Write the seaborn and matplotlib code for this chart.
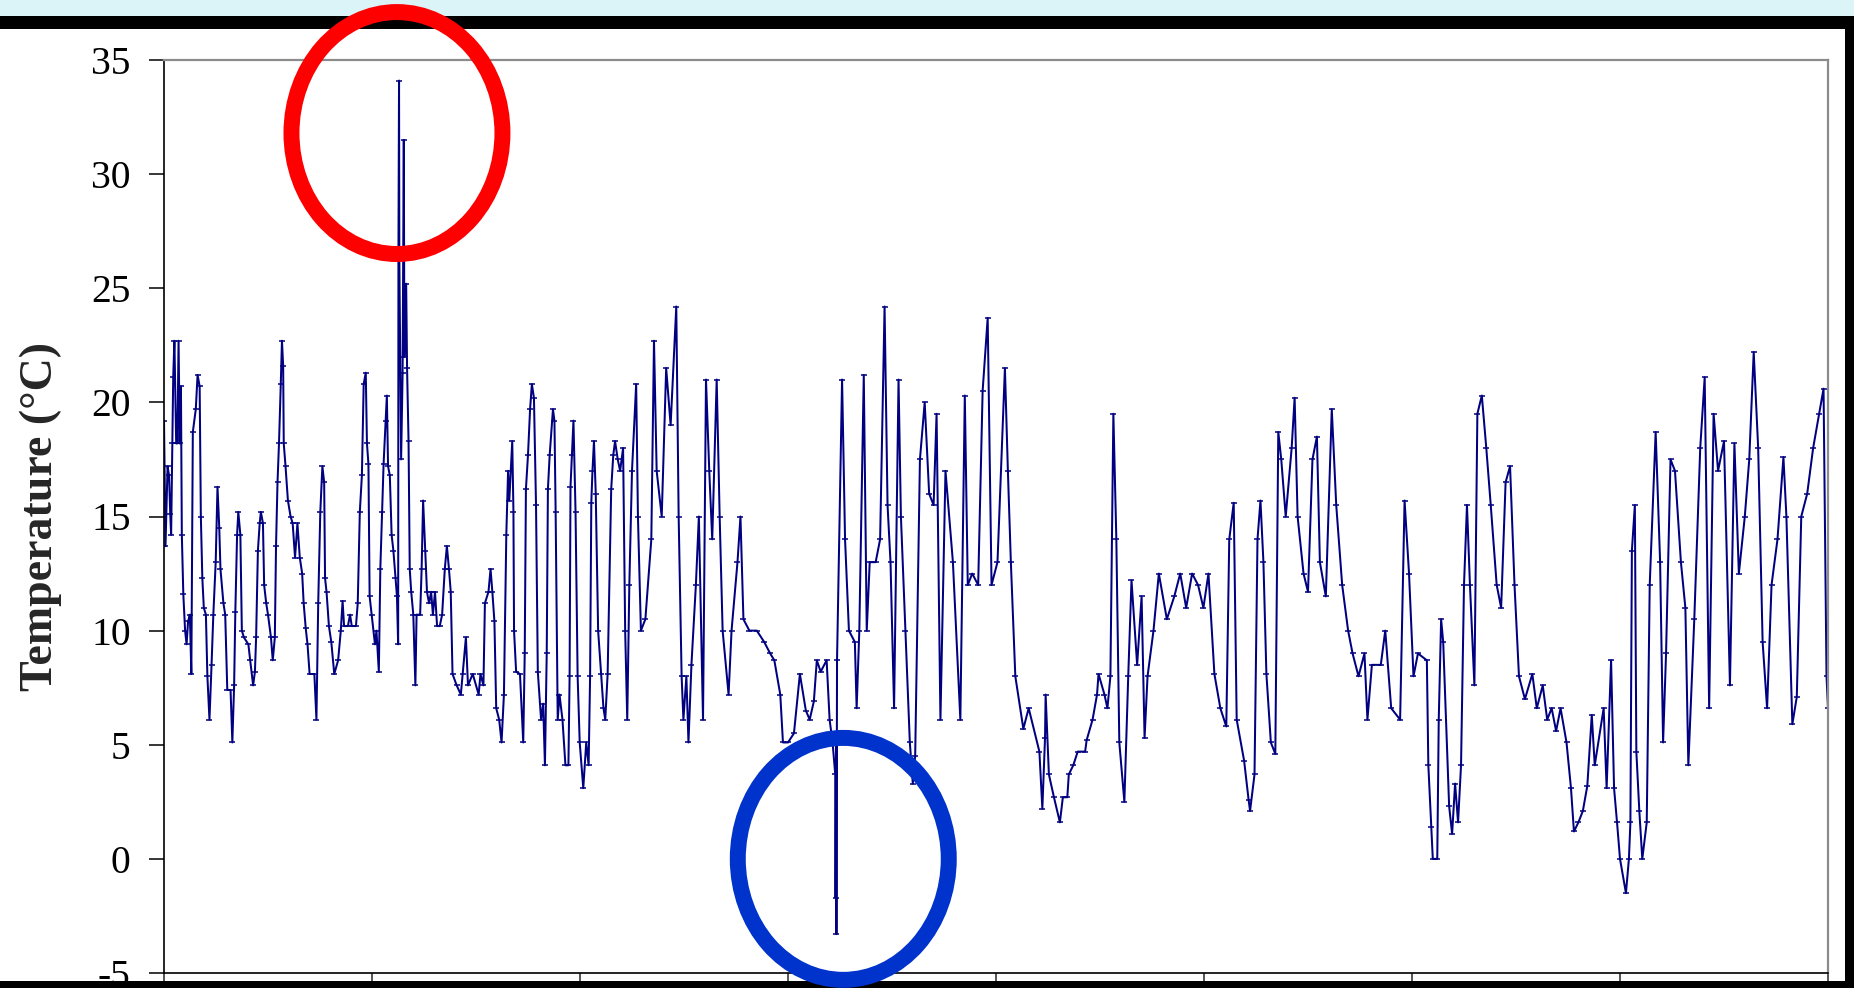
# Logged air temperature over eight weeks, with the two faulty readings circled
import pandas as pd
import matplotlib
matplotlib.use("Agg")
import matplotlib.pyplot as plt
import seaborn as sns
from matplotlib.patches import Ellipse, Rectangle

# time in days from the start of the log, temperature in degC
day = [
    0.00, 0.05, 0.12, 0.17, 0.21, 0.24, 0.28, 0.31, 0.35, 0.41, 0.45, 0.49, 0.53, 0.57, 0.60, 0.65,
    0.71, 0.76, 0.81, 0.87, 0.92, 0.97, 1.07, 1.13, 1.20, 1.24, 1.29, 1.34, 1.41, 1.46, 1.53, 1.60,
    1.66, 1.74, 1.80, 1.86, 1.90, 2.00, 2.06, 2.13, 2.24, 2.30, 2.36, 2.40, 2.46, 2.50, 2.57, 2.62,
    2.69, 2.84, 2.90, 3.00, 3.06, 3.10, 3.16, 3.22, 3.26, 3.33, 3.37, 3.44, 3.50, 3.60, 3.66, 3.73,
    3.77, 3.82, 3.87, 3.93, 3.97, 4.01, 4.03, 4.09, 4.17, 4.26, 4.33, 4.41, 4.49, 4.57, 4.65, 4.70,
    4.77, 4.83, 4.90, 5.06, 5.13, 5.19, 5.26, 5.33, 5.39, 5.42, 5.47, 5.55, 5.63, 5.73, 5.86, 5.95,
    6.01, 6.06, 6.19, 6.26, 6.32, 6.46, 6.52, 6.59, 6.66, 6.72, 6.79, 6.83, 6.88, 6.92, 6.99, 7.10,
    7.15, 7.23, 7.28, 7.34, 7.39, 7.46, 7.50, 7.54, 7.60, 7.66, 7.72, 7.79, 7.84, 7.88, 7.89, 7.91,
    7.92, 7.98, 8.03, 8.07, 8.09, 8.15, 8.18, 8.23, 8.27, 8.32, 8.39, 8.46, 8.50, 8.62, 8.67, 8.72,
    8.79, 8.85, 8.92, 8.99, 9.05, 9.12, 9.19, 9.28, 9.36, 9.45, 9.52, 9.59, 9.65, 9.71, 9.85, 9.99,
    10.05, 10.16, 10.23, 10.39, 10.59, 10.65, 10.75, 10.80, 10.92, 10.99, 11.05, 11.12, 11.18, 11.28,
    11.36, 11.44, 11.52, 11.58, 11.62, 11.72, 11.76, 11.78, 11.85, 11.98, 12.09, 12.14, 12.18, 12.25,
    12.32, 12.38, 12.45, 12.52, 12.58, 12.69, 12.76, 12.82, 12.88, 12.92, 12.98, 13.09, 13.14, 13.18,
    13.25, 13.31, 13.41, 13.51, 13.61, 13.65, 13.68, 13.73, 13.78, 13.85, 13.92, 13.99, 14.11, 14.21,
    14.29, 14.34, 14.38, 14.42, 14.47, 14.53, 14.61, 14.71, 14.79, 14.85, 14.93, 15.05, 15.12, 15.18,
    15.27, 15.35, 15.45, 15.52, 15.59, 15.66, 15.75, 15.89, 15.95, 16.05, 16.20, 16.40, 16.49, 16.58,
    16.75, 16.90, 17.05, 17.24, 17.32, 17.42, 17.48, 17.58, 17.65, 17.75, 17.90, 18.00, 18.14, 18.24,
    18.35, 18.45, 18.60, 18.70, 18.80, 19.00, 19.10, 19.30, 19.40, 19.50, 19.70, 19.95, 20.20, 20.40,
    20.54, 20.74, 20.83, 21.00, 21.20, 21.40, 21.60, 21.73, 21.87, 21.97, 22.10, 22.30, 22.40, 22.50,
    22.59, 22.60, 22.62, 22.63, 22.65, 22.82, 22.92, 23.05, 23.25, 23.31, 23.40, 23.55, 23.65, 23.75,
    23.95, 24.10, 24.25, 24.35, 24.45, 24.57, 24.72, 24.80, 24.95, 25.10, 25.20, 25.28, 25.44, 25.60,
    25.75, 25.90, 26.00, 26.13, 26.30, 26.55, 26.80, 26.95, 27.05, 27.20, 27.40, 27.55, 27.72, 27.85,
    28.05, 28.30, 28.40, 28.50, 28.65, 28.92, 29.10, 29.46, 29.56, 29.65, 29.67, 29.78, 29.95, 30.15,
    30.25, 30.40, 30.45, 30.60, 30.75, 31.00, 31.05, 31.25, 31.40, 31.45, 31.65, 31.75, 31.85, 31.95,
    32.05, 32.15, 32.32, 32.45, 32.56, 32.75, 32.90, 33.00, 33.10, 33.30, 33.48, 33.75, 34.00, 34.20,
    34.40, 34.60, 34.80, 34.98, 35.15, 35.35, 35.55, 35.75, 35.85, 36.00, 36.10, 36.35, 36.50, 36.55,
    36.70, 36.80, 36.90, 37.00, 37.10, 37.25, 37.40, 37.50, 37.60, 37.75, 37.95, 38.05, 38.15, 38.35,
    38.50, 38.65, 38.80, 38.90, 39.10, 39.30, 39.45, 39.65, 39.85, 40.00, 40.20, 40.40, 40.50, 40.65,
    40.95, 41.10, 41.30, 41.60, 41.75, 41.90, 42.05, 42.20, 42.50, 42.55, 42.65, 42.70, 42.85, 42.90,
    42.98, 43.05, 43.25, 43.35, 43.45, 43.55, 43.65, 43.75, 43.85, 43.95, 44.10, 44.20, 44.35, 44.50,
    44.65, 44.85, 45.00, 45.15, 45.30, 45.45, 45.60, 45.80, 46.05, 46.20, 46.40, 46.55, 46.70, 46.85,
    47.00, 47.20, 47.35, 47.45, 47.60, 47.75, 47.90, 48.05, 48.15, 48.45, 48.55, 48.70, 48.80, 48.90,
    49.00, 49.20, 49.30, 49.35, 49.40, 49.50, 49.55, 49.65, 49.75, 49.90, 50.00, 50.20, 50.35, 50.45,
    50.55, 50.70, 50.85, 51.05, 51.20, 51.30, 51.50, 51.70, 51.85, 52.00, 52.15, 52.30, 52.50, 52.70,
    52.85, 53.00, 53.20, 53.35, 53.50, 53.65, 53.80, 53.95, 54.10, 54.30, 54.50, 54.60, 54.80, 54.95,
    55.10, 55.30, 55.50, 55.70, 55.85, 55.95, 56.00,
]
temp = [
    19.2, 13.7, 17.2, 16.8, 15.1, 14.2, 18.2, 21.1, 22.7, 18.2, 18.2, 22.7, 18.2, 20.7, 14.2, 11.6,
    10.0, 9.4, 10.4, 10.7, 8.1, 18.7, 19.7, 21.2, 20.7, 15.0, 12.3, 11.0, 10.7, 8.0, 6.1, 8.5,
    10.7, 13.0, 16.3, 14.5, 12.7, 11.2, 10.7, 7.4, 7.4, 5.1, 7.6, 10.8, 14.2, 15.2, 14.2, 10.0,
    9.7, 9.4, 8.7, 7.6, 8.2, 9.7, 13.5, 14.7, 15.2, 14.7, 12.0, 11.2, 10.7, 9.7, 8.7, 9.7,
    13.7, 16.5, 18.2, 20.8, 22.7, 21.6, 18.2, 17.2, 15.7, 15.0, 14.7, 13.2, 14.7, 13.2, 12.5, 11.2,
    10.1, 9.4, 8.1, 8.1, 6.1, 11.2, 15.2, 17.2, 16.5, 12.3, 11.7, 10.2, 9.5, 8.1, 8.7, 10.0,
    11.3, 10.2, 10.2, 10.7, 10.2, 10.2, 11.2, 15.2, 16.8, 20.8, 21.3, 18.2, 17.3, 11.5, 10.7, 9.4,
    10.0, 8.2, 12.7, 15.2, 17.3, 19.2, 20.3, 17.2, 16.8, 14.2, 13.5, 12.3, 11.5, 9.4, 26.5, 34.1,
    26.3, 17.5, 21.3, 31.5, 22.0, 25.2, 21.5, 18.3, 12.7, 11.7, 10.7, 7.6, 10.7, 10.7, 12.7, 15.7,
    13.5, 11.7, 11.2, 11.7, 10.7, 11.7, 10.2, 10.2, 10.7, 12.7, 13.7, 12.7, 11.7, 8.1, 7.6, 7.2,
    8.1, 9.7, 7.6, 8.1, 7.2, 8.1, 7.6, 11.2, 11.7, 12.7, 11.7, 10.4, 6.6, 6.1,
    5.1, 7.2, 14.2, 17.0, 15.7, 18.3, 15.2, 10.0, 8.2, 8.1, 5.1, 9.0, 16.2, 17.7,
    19.7, 20.8, 20.2, 15.5, 8.2, 6.1, 6.8, 4.1, 9.0, 16.2, 17.7, 19.7, 19.2, 15.2,
    6.1, 7.2, 6.1, 4.1, 4.1, 8.0, 16.3, 17.7, 19.2, 15.2, 8.0, 5.1, 3.1, 5.1,
    4.1, 8.0, 15.6, 17.0, 18.3, 16.0, 10.0, 8.1, 6.6, 6.1, 8.1, 16.2, 17.7, 18.3,
    17.5, 17.0, 18.0, 10.0, 6.1, 12.0, 17.0, 20.8, 15.0, 10.0, 10.5, 14.0, 22.7, 17.0,
    15.0, 21.5, 19.0, 24.2, 15.0, 8.0, 6.1, 8.0, 5.1, 8.5, 12.0, 15.0, 6.1, 21.0,
    17.0, 14.0, 21.0, 15.0, 10.0, 7.2, 10.0, 13.0, 15.0, 10.5, 10.0, 10.0, 9.5, 9.0,
    8.7, 7.2, 5.1, 5.1, 5.5, 8.1, 6.5, 6.1, 6.9, 8.7, 8.2, 8.7, 6.1, 5.1,
    3.7, -1.7, 5.0, -3.3, 8.7, 21.0, 14.0, 10.0, 9.5, 6.6, 10.0, 21.2, 10.0, 13.0,
    13.0, 14.0, 24.2, 15.5, 13.0, 6.6, 21.0, 15.0, 10.0, 5.1, 3.3, 4.5, 17.5, 20.0,
    16.0, 15.5, 19.5, 6.1, 17.0, 13.0, 6.1, 20.3, 12.0, 12.5, 12.0, 20.5, 23.7, 12.0,
    13.0, 21.5, 17.0, 13.0, 8.0, 5.7, 6.6, 4.7, 2.2, 5.3, 7.2, 3.7, 2.7, 1.6,
    2.7, 2.7, 3.7, 4.1, 4.7, 4.7, 5.2, 6.1, 7.2, 8.1, 7.2, 6.6, 8.0, 19.5,
    14.0, 5.1, 2.5, 8.0, 12.2, 8.5, 11.5, 5.3, 8.0, 10.0, 12.5, 10.5, 11.5, 12.5,
    11.0, 12.5, 12.0, 11.0, 12.5, 8.1, 6.6, 5.8, 14.0, 15.6, 6.1, 4.3, 2.6, 2.1,
    3.7, 14.0, 15.7, 13.0, 8.1, 5.1, 4.6, 18.7, 17.5, 15.0, 18.0, 20.2, 15.0, 12.5,
    11.7, 17.5, 18.5, 13.0, 11.5, 19.7, 15.5, 12.0, 10.0, 9.0, 8.0, 9.0, 6.1, 8.5,
    8.5, 10.0, 6.6, 6.1, 15.7, 12.5, 8.0, 9.0, 8.7, 4.1, 1.4, 0.0, 0.0, 6.1,
    10.5, 9.5, 2.3, 1.1, 3.3, 1.6, 4.1, 12.0, 15.5, 12.0, 7.6, 19.5, 20.3, 18.0,
    15.5, 12.0, 11.0, 16.5, 17.2, 12.0, 8.0, 7.0, 8.1, 6.6, 7.6, 6.1, 6.6, 5.6,
    6.6, 5.1, 3.1, 1.2, 1.6, 2.1, 3.2, 6.3, 4.1, 6.6, 3.1, 8.7, 3.1, 1.6,
    0.0, -1.5, 0.0, 1.6, 13.5, 15.5, 4.7, 2.1, 0.0, 1.6, 12.0, 18.7, 13.0, 5.1,
    9.0, 17.5, 17.0, 13.0, 11.0, 4.1, 10.5, 18.0, 21.1, 6.6, 19.5, 17.0, 18.3, 7.6,
    18.2, 12.5, 15.0, 17.5, 22.2, 18.0, 9.5, 6.6, 12.0, 14.0, 17.6, 15.0, 5.9, 7.1,
    15.0, 16.0, 18.0, 19.5, 20.6, 8.0, 6.6,
]

y_ticks = [-5, 0, 5, 10, 15, 20, 25, 30, 35]
week_ticks = [0, 7, 14, 21, 28, 35, 42, 49, 56]

# circled readings: (centre day, centre temp)
spike_high = (7.84, 31.8)
spike_low = (22.86, 0.0)

df = pd.DataFrame({"day": day, "temp": temp})

sns.set_style("white")
plt.rcParams["font.family"] = ["Liberation Serif", "DejaVu Serif"]

W, H = 1854, 988
fig = plt.figure(figsize=(W / 100, H / 100), dpi=100)
fig.patch.set_facecolor("white")
ax = fig.add_axes([164 / W, 1 - 973 / H, (1828 - 164) / W, (973 - 60) / H])
ax.set_zorder(0)

sns.lineplot(
    data=df, x="day", y="temp", ax=ax,
    color="#000080", linewidth=1.45,
    estimator=None, sort=False,
    marker="_", markersize=5, markeredgewidth=1.1, markeredgecolor="#000080",
)

ax.set_xlim(0, 56)
ax.set_ylim(-5, 35)
ax.set_yticks(y_ticks)
ax.set_yticklabels([str(v) for v in y_ticks])
ax.set_xticks(week_ticks)
ax.set_xticklabels([])
ax.tick_params(axis="y", direction="out", length=11, width=1.1, pad=13,
               labelsize=28.5, colors="black", left=True)
ax.tick_params(axis="x", direction="out", length=8, width=1.1, bottom=True)

ax.set_xlabel("")
ax.set_ylabel("Temperature (°C)", fontsize=33, fontweight="bold")
ax.yaxis.set_label_coords(-0.0613, 0.5)

for side in ["left", "bottom"]:
    ax.spines[side].set_color("black")
    ax.spines[side].set_linewidth(1.2)
for side in ["top", "right"]:
    ax.spines[side].set_color("#8c8c8c")
    ax.spines[side].set_linewidth(1.6)

# slide frame around the chart
bands = [
    ((0, 1 - 16 / H), 1, 16 / H, "#daf4f8"),
    ((0, 1 - 29 / H), 1, 13 / H, "black"),
    ((1845 / W, 0), 9 / W, 1 - 16 / H, "black"),
    ((0, 0), 1, 7 / H, "black"),
]
for xy, w, h, c in bands:
    fig.add_artist(Rectangle(xy, w, h, transform=fig.transFigure,
                             facecolor=c, edgecolor="none", zorder=3))

# rings drawn on top of everything
for (cx, cy), col in [(spike_high, "#ff0000"), (spike_low, "#0033cc")]:
    ring = Ellipse((cx, cy), width=7.1, height=10.6, transform=ax.transData,
                   fill=False, edgecolor=col, linewidth=11.5, zorder=5)
    fig.add_artist(ring)

fig.savefig("out.png", dpi=100, facecolor="white")
